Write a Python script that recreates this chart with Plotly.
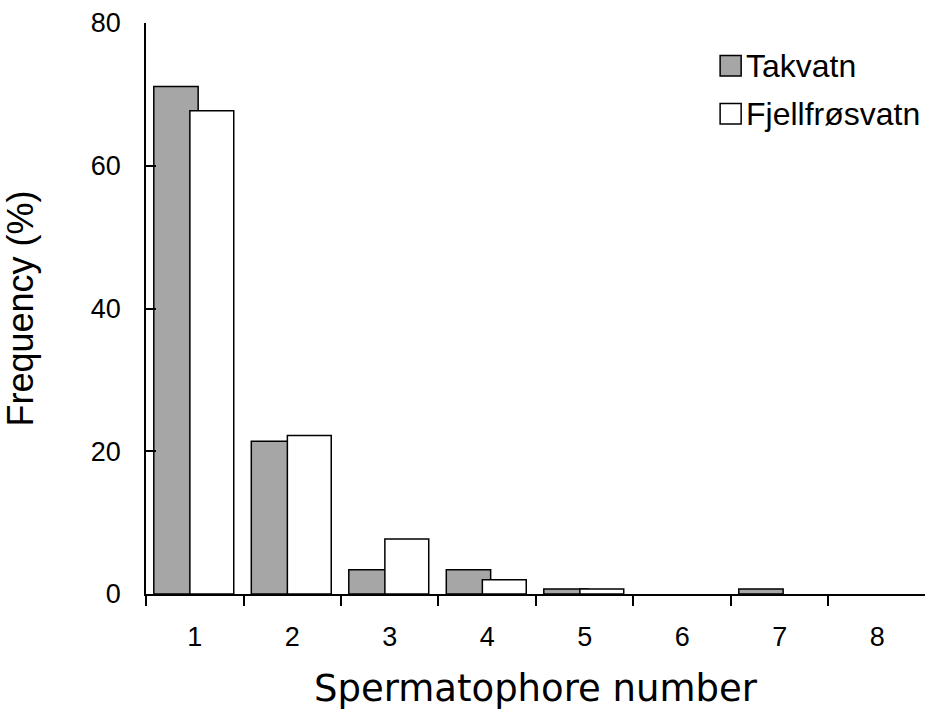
import plotly.graph_objects as go

categories = ["1", "2", "3", "4", "5", "6", "7", "8"]
takvatn = [71.1, 21.4, 3.4, 3.4, 0.7, 0, 0.7, 0]
fjellfrosvatn = [67.7, 22.2, 7.7, 2.0, 0.7, 0, 0, 0]
series_names = ["Takvatn", "Fjellfrøsvatn"]
series_colors = ["#a6a6a6", "#ffffff"]
y_ticks = [0, 20, 40, 60, 80]


def nz(vals):
    # zero-height bars are not drawn in the reference
    return [v if v > 0 else None for v in vals]


fig = go.Figure()
fig.add_trace(go.Bar(
    x=categories, y=nz(takvatn), name=series_names[0],
    marker=dict(color=series_colors[0], line=dict(color="black", width=1.5)),
    offset=-0.42, width=0.455, showlegend=False,
))
fig.add_trace(go.Bar(
    x=categories, y=nz(fjellfrosvatn), name=series_names[1],
    marker=dict(color=series_colors[1], line=dict(color="black", width=1.5)),
    offset=-0.05, width=0.45, showlegend=False,
))

# manual legend
leg_y = [0.925, 0.841]
for i, (nm, col) in enumerate(zip(series_names, series_colors)):
    fig.add_shape(type="rect", xref="paper", yref="paper",
                  x0=0.737, x1=0.764, y0=leg_y[i] - 0.018, y1=leg_y[i] + 0.018,
                  fillcolor=col, line=dict(color="black", width=1.5))
    fig.add_annotation(xref="paper", yref="paper", x=0.768, y=leg_y[i],
                       text=nm, showarrow=False, xanchor="left", yanchor="middle",
                       font=dict(family="Liberation Sans, Arial, sans-serif", size=32, color="black"))

fig.update_layout(
    width=925, height=712,
    margin=dict(l=146, r=0, t=23, b=118),
    paper_bgcolor="white", plot_bgcolor="white",
    barmode="overlay",
    font=dict(family="Liberation Sans, Arial, sans-serif", color="black"),
)
fig.update_xaxes(
    type="category", tickson="boundaries", ticks="outside", ticklen=10,
    tickwidth=1.5, tickcolor="black", showline=True, linecolor="black", linewidth=1.5,
    showgrid=False, tickfont=dict(size=27, family="Liberation Sans, Arial, sans-serif"),
    ticklabelstandoff=18,
    range=[-0.5, 7.49],
    title=dict(text="Spermatophore number", standoff=24,
               font=dict(family="DejaVu Sans, Verdana, sans-serif", size=37)),
)
fig.update_yaxes(
    range=[0, 80], tickvals=y_ticks, ticks="inside", ticklen=10, tickwidth=1.5,
    tickcolor="black", showline=True, linecolor="black", linewidth=1.5,
    showgrid=False, zeroline=False,
    tickfont=dict(size=27, family="Liberation Sans, Arial, sans-serif"),
    ticklabelstandoff=18,
    title=dict(text="Frequency (%)", standoff=48,
               font=dict(family="Liberation Sans, Arial, sans-serif", size=36)),
)

fig.write_html("out.html")
